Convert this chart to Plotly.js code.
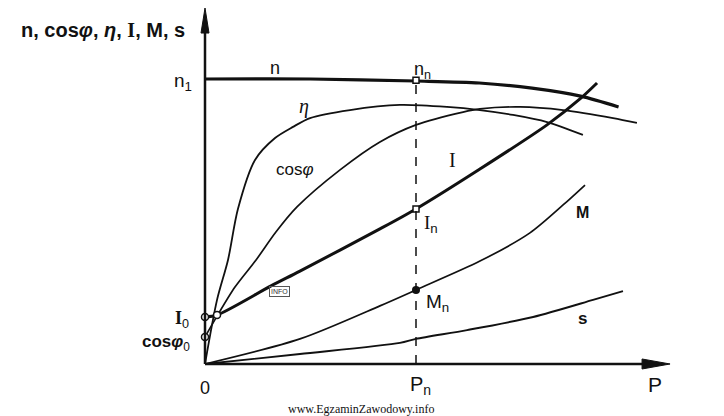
<!DOCTYPE html>
<html>
<head>
<meta charset="utf-8">
<script src="https://cdn.plot.ly/plotly-3.0.1.min.js"></script>
<style>html,body{margin:0;padding:0;background:#fff;}#chart{width:724px;height:416px;}</style>
</head>
<body>
<div id="chart"></div>
<script>
// P in units of rated power Pn (Pn = 1); values in units of n1 (n1 = 1)
const nP    = [0, 0.5, 1.0, 1.3, 1.55, 1.78, 1.96];
const nV    = [1.0, 1.0, 0.993, 0.986, 0.968, 0.940, 0.902];

const etaP  = [0, 0.057, 0.109, 0.156, 0.237, 0.332, 0.417, 0.498, 0.687, 0.924, 1.147, 1.303, 1.460, 1.621, 1.791];
const etaV  = [0, 0.225, 0.365, 0.544, 0.716, 0.793, 0.832, 0.863, 0.891, 0.909, 0.902, 0.891, 0.874, 0.849, 0.804];

const cosP  = [0, 0.057, 0.142, 0.242, 0.336, 0.436, 0.640, 0.829, 1.0, 1.223, 1.303, 1.493, 1.697, 1.934, 2.047];
const cosV  = [0.095, 0.168, 0.270, 0.365, 0.463, 0.551, 0.681, 0.779, 0.839, 0.884, 0.895, 0.902, 0.891, 0.863, 0.846];

const iP    = [0, 0.057, 0.313, 0.450, 0.829, 1.0, 1.303, 1.621, 1.777, 1.858];
const iV    = [0.165, 0.172, 0.274, 0.326, 0.474, 0.544, 0.684, 0.839, 0.930, 0.986];

const mP    = [0, 0.450, 0.829, 1.0, 1.303, 1.540, 1.697, 1.801];
const mV    = [0, 0.088, 0.204, 0.260, 0.361, 0.460, 0.558, 0.628];

const sP    = [0, 0.450, 0.924, 1.0, 1.242, 1.555, 1.839, 1.981];
const sV    = [0, 0.035, 0.074, 0.088, 0.119, 0.165, 0.225, 0.256];

const Pn = 1.0;
const openCircleP = [0, 0.057, 0];
const openCircleV = [0.165, 0.172, 0.095];
const squareP = [Pn, Pn];
const squareV = [0.996, 0.544];
const dotP = [Pn];
const dotV = [0.260];

const xMax = 2.204;   // tip of P axis arrow
const yMax = 1.249;   // tip of vertical axis arrow

const INK = '#111';
const SANS = 'Liberation Sans, Arial, sans-serif';
const SERIF = 'Liberation Serif, Times New Roman, serif';

function curve(x, y, w) {
  return {x: x, y: y, type: 'scatter', mode: 'lines',
    line: {color: INK, width: w, shape: 'spline', smoothing: 0.8},
    hoverinfo: 'skip', showlegend: false, cliponaxis: false};
}

const traces = [
  curve(nP, nV, 3.2),
  curve(etaP, etaV, 1.8),
  curve(cosP, cosV, 1.7),
  curve(iP, iV, 3.0),
  curve(mP, mV, 1.7),
  curve(sP, sV, 1.9),
  {x: openCircleP, y: openCircleV, type: 'scatter', mode: 'markers', cliponaxis: false,
   marker: {symbol: 'circle', size: 7, color: '#fff', line: {color: INK, width: 1.5}}, showlegend: false, hoverinfo: 'skip'},
  {x: squareP, y: squareV, type: 'scatter', mode: 'markers', cliponaxis: false,
   marker: {symbol: 'square', size: 6, color: '#fff', line: {color: INK, width: 1.5}}, showlegend: false, hoverinfo: 'skip'},
  {x: dotP, y: dotV, type: 'scatter', mode: 'markers', cliponaxis: false,
   marker: {symbol: 'circle', size: 8, color: INK}, showlegend: false, hoverinfo: 'skip'}
];

function lab(text, x, y, opts) {
  return Object.assign({text: text, x: x, y: y, xref: 'x', yref: 'y', showarrow: false,
    xanchor: 'center', yanchor: 'middle',
    font: {family: SANS, size: 18, color: INK}}, opts || {});
}
function plab(text, x, y, opts) {
  return Object.assign({text: text, x: x, y: y, xref: 'paper', yref: 'paper', showarrow: false,
    xanchor: 'center', yanchor: 'middle',
    font: {family: SANS, size: 18, color: INK}}, opts || {});
}

const annotations = [
  lab('n', 0.332, 1.04),
  lab('n<sub>n</sub>', 0.98, 1.03, {xanchor: 'left'}),
  lab('<i>η</i>', 0.47, 0.905, {font: {family: SERIF, size: 20, color: INK}}),
  lab('cos<i>φ</i>', 0.427, 0.681, {font: {family: SANS, size: 17, color: INK}}),
  lab('I', 1.171, 0.716, {font: {family: SERIF, size: 20, color: INK}}),
  lab('<span style="font-family:Liberation Serif">I</span><sub>n</sub>', 1.03, 0.49, {xanchor: 'left', font: {family: SANS, size: 19, color: INK}}),
  lab('<b>M</b>', 1.791, 0.533, {font: {family: SANS, size: 16, color: INK}}),
  lab('M<sub>n</sub>', 1.04, 0.214, {xanchor: 'left', font: {family: SANS, size: 19, color: INK}}),
  lab('<b>s</b>', 1.791, 0.161, {font: {family: SANS, size: 17, color: INK}}),
  lab('INFO', 0.355, 0.255, {font: {family: SANS, size: 7, color: '#333'}, bordercolor: '#555', borderwidth: 1, borderpad: 1}),
  plab('0', 0.0371, -0.0104),
  plab('P<sub>n</sub>', 0.436, -0.0052, {font: {family: SANS, size: 20, color: INK}}),
  plab('P', 0.872, -0.0026, {font: {family: SANS, size: 21, color: INK}}),
  plab('n<sub>1</sub>', 0.016, 0.786, {xanchor: 'right', font: {family: SANS, size: 19, color: INK}}),
  plab('<span style="font-family:Liberation Serif"><b>I</b></span><sub>0</sub>', 0.0111, 0.1677, {xanchor: 'right'}),
  plab('<b>cos<i>φ</i></b><sub>0</sub>', 0.0139, 0.107, {xanchor: 'right', font: {family: SANS, size: 17, color: INK}}),
  plab('<b>n, cos<i>φ</i>, <i>η</i>, <span style="font-family:Liberation Serif">I</span>, M, s</b>', -0.1525, 0.922, {font: {family: SANS, size: 20, color: INK}}),
  plab('www.EgzaminZawodowy.info', 0.327, -0.0654, {font: {family: SERIF, size: 12, color: INK}})
];

const shapes = [
  {type: 'line', xref: 'x', yref: 'y', x0: 0, y0: 0, x1: xMax - 0.05, y1: 0, line: {color: INK, width: 2.5}},
  {type: 'line', xref: 'x', yref: 'y', x0: 0, y0: 0, x1: 0, y1: yMax - 0.05, line: {color: INK, width: 2.5}},
  {type: 'path', xref: 'x', yref: 'y', xsizemode: 'pixel', ysizemode: 'pixel', xanchor: xMax, yanchor: 0,
   path: 'M0,0 L-28,5 L-28,-5 Z', fillcolor: INK, line: {color: INK, width: 1}},
  {type: 'path', xref: 'x', yref: 'y', xsizemode: 'pixel', ysizemode: 'pixel', xanchor: 0, yanchor: yMax,
   path: 'M0,0 L-4,-25 L4,-25 Z', fillcolor: INK, line: {color: INK, width: 1}},
  {type: 'line', xref: 'x', yref: 'y', x0: Pn, y0: 0, x1: Pn, y1: squareV[0], line: {color: INK, width: 1.5, dash: 'dash'}}
];

const layout = {
  width: 724, height: 416,
  margin: {l: 185, r: 0, t: 0, b: 32, pad: 0},
  paper_bgcolor: '#fff', plot_bgcolor: '#fff',
  showlegend: false,
  xaxis: {range: [-0.0948, 2.4597], visible: false, fixedrange: true},
  yaxis: {range: [-0.0702, 1.2772], visible: false, fixedrange: true},
  annotations: annotations,
  shapes: shapes
};

Plotly.newPlot('chart', traces, layout, {staticPlot: true, displayModeBar: false});
</script>
</body>
</html>
